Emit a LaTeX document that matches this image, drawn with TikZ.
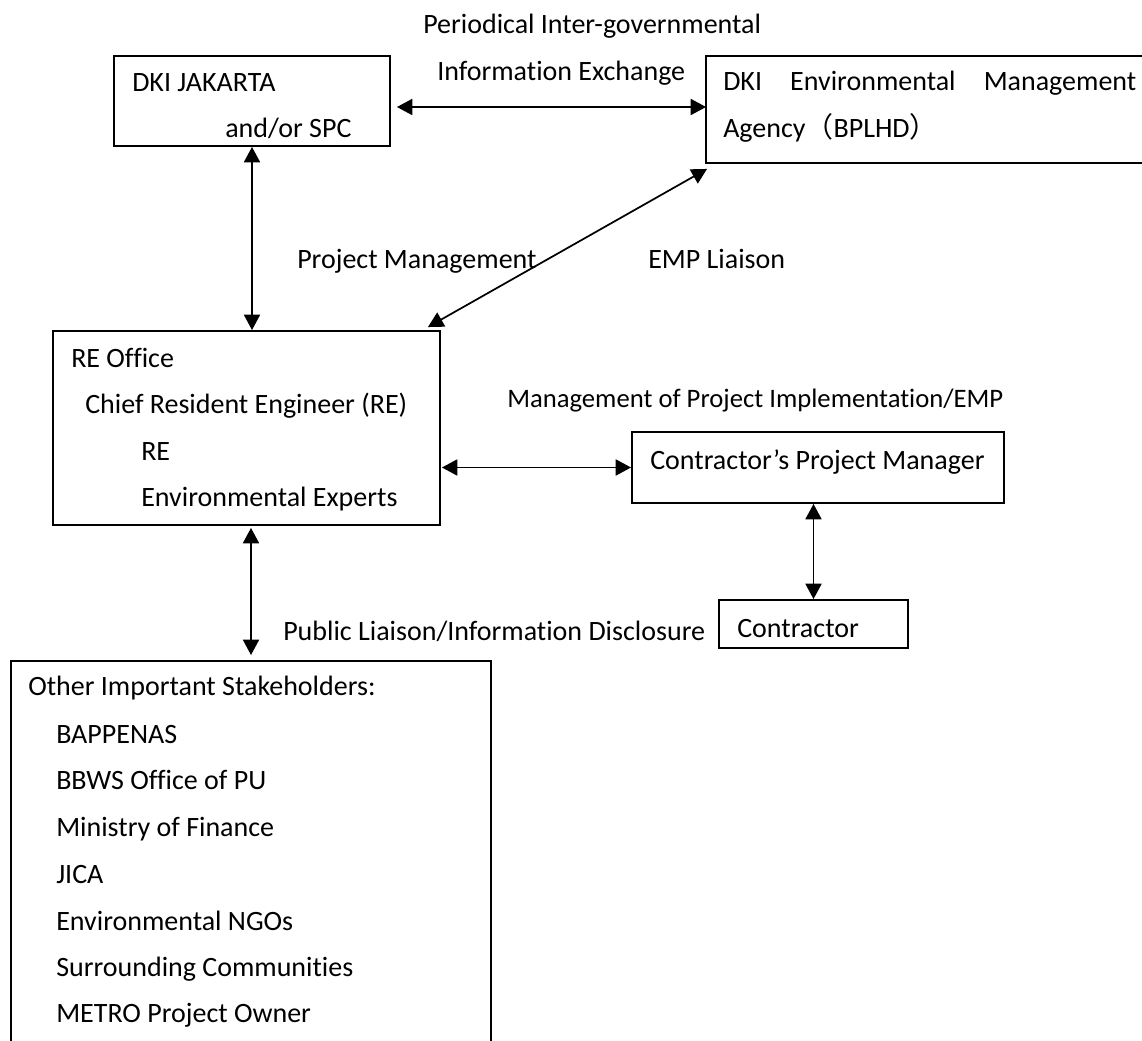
\documentclass[tikz,border=0pt]{standalone}
\usepackage{fontspec}
\setmainfont{Carlito}[Ligatures=CommonOff]
\newfontfamily\cjkfont{Noto Sans CJK SC}
\usetikzlibrary{arrows.meta,calc,fit}
\begin{document}
\begin{tikzpicture}[x=0.75pt,y=-0.75pt,
  box/.style={draw=black,line width=1.4pt,inner sep=0pt},
  txt/.style={font=\fontsize{21}{25}\selectfont,inner sep=0pt,anchor=base west,text=black},
  smalltxt/.style={txt,font=\fontsize{20}{24}\selectfont},
  conn/.style={line width=1.3pt,{Triangle[length=11.5pt,width=12pt]}-{Triangle[length=11.5pt,width=12pt]}}]
\clip (0,0) rectangle (1142,1041);
\fill[white] (0,0) rectangle (1142,1041);
% boxes
\coordinate (dkiA) at (114,56);  \coordinate (dkiB) at (390,146);
\node[box,fit=(dkiA)(dkiB)] (dki) {};
\coordinate (bplA) at (706,56);  \coordinate (bplB) at (1170,163);
\node[box,fit=(bplA)(bplB)] (bpl) {};
\coordinate (reA) at (53,331);   \coordinate (reB) at (440,525);
\node[box,fit=(reA)(reB)] (re) {};
\coordinate (cpmA) at (632,432); \coordinate (cpmB) at (1004,503);
\node[box,fit=(cpmA)(cpmB)] (cpm) {};
\coordinate (conA) at (719,600); \coordinate (conB) at (908,648);
\node[box,fit=(conA)(conB)] (con) {};
\coordinate (shA) at (11,661);   \coordinate (shB) at (491,1070);
\node[box,fit=(shA)(shB)] (sh) {};
% box texts
\node[txt] (d1) at (132,92) {DKI JAKARTA};
\node[txt] (d2) at (225,138) {and/or SPC};
\node[txt] (b1) at (723,91) {\makebox[309.75pt][s]{DKI Environmental Management}};
\node[txt] (b2) at (723,138) {Agency{\cjkfont （}BPLHD{\cjkfont ）}};
\node[txt] (r1) at (71,367) {RE Office};
\node[txt] (r2) at (85,413) {Chief Resident Engineer (RE)};
\node[txt] (r3) at (141,460) {RE};
\node[txt] (r4) at (141,506) {Environmental Experts};
\node[txt] (c1) at (650,469) {Contractor’s Project Manager};
\node[txt] (c2) at (737,637) {Contractor};
\node[txt] (s0) at (28,695) {Other Important Stakeholders:};
\node[txt] (s1) at (56,743) {BAPPENAS};
\node[txt] (s2) at (56,789) {BBWS Office of PU};
\node[txt] (s3) at (56,836) {Ministry of Finance};
\node[txt] (s4) at (56,883) {JICA};
\node[txt] (s5) at (56,930) {Environmental NGOs};
\node[txt] (s6) at (56,976) {Surrounding Communities};
\node[txt] (s7) at (56,1022) {METRO Project Owner};
% connector labels
\node[txt] (l1) at (423,34) {Periodical Inter-governmental};
\node[txt] (l2) at (437,81) {Information Exchange};
\node[txt] (l3) at (297,269) {Project Management};
\node[txt] (l4) at (648,269) {EMP Liaison};
\node[smalltxt] (l5) at (507,407) {Management of Project Implementation/EMP};
\node[txt] (l6) at (283,640) {Public Liaison/Information Disclosure};
% connectors
\draw[conn] ($(dki.east|-bpl.west)+(6,-2.5)$) -- ($(bpl.west)+(1,-2.5)$);
\draw[conn] (dki.south) -- (dki.south|-re.north);
\draw[conn] ($(re.north east)+(-13,-3)$) -- ($(bpl.south west)+(2,5)$);
\draw[conn] ($(re.east|-cpm.west)+(1,0)$) -- (cpm.west);
\draw[conn] (con.north|-cpm.south) -- (con.north);
\draw[conn] ($(sh.north|-re.south)+(0,2)$) -- ($(sh.north)+(0,-5)$);
\end{tikzpicture}
\end{document}
